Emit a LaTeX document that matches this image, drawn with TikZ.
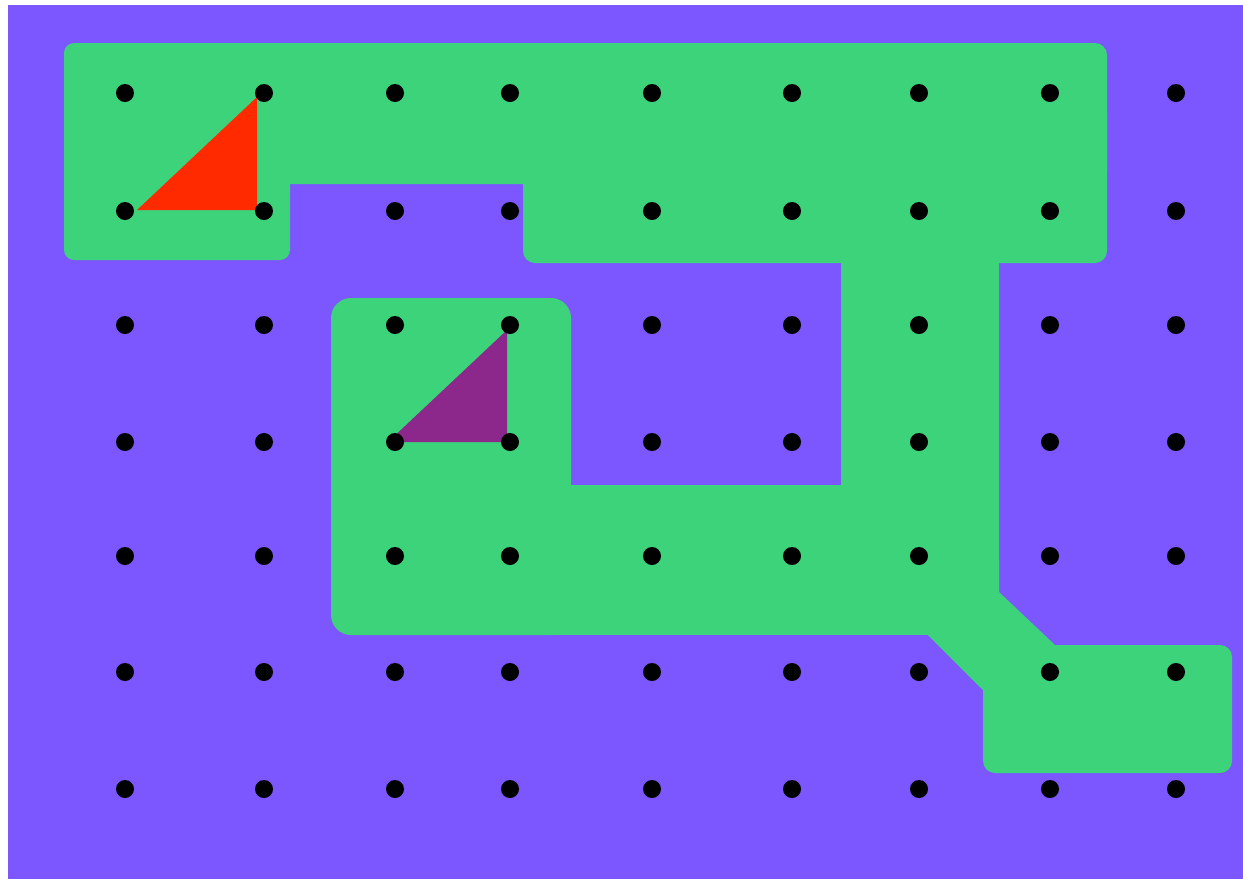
\documentclass[tikz,border=0pt]{standalone}
\definecolor{bgpurple}{RGB}{124,86,255}
\definecolor{pathgreen}{RGB}{60,211,123}
\definecolor{trired}{RGB}{255,42,0}
\definecolor{trimag}{RGB}{140,40,140}
\tikzset{
  dot/.style={circle,fill=black,inner sep=0pt,minimum size=18pt},
  area/.style={fill=pathgreen}
}
\begin{document}
\begin{tikzpicture}[x=1pt,y=-1pt]
\useasboundingbox (0,0) rectangle (1243,879);
\fill[white] (0,0) rectangle (1243,879);
\fill[bgpurple] (8,5) rectangle (1243,879);
% top band
\fill[area,rounded corners=10pt] (64,43) rectangle (290,260);
\fill[area,rounded corners=12pt] (250,43) rectangle (1107,184);
\fill[area,rounded corners=12pt] (523,100) rectangle (1107,263);
% column
\fill[area] (841,200) rectangle (999,600);
% middle U
\fill[area,rounded corners=20pt] (331,298) rectangle (571,635);
\fill[area] (540,485) rectangle (960,635);
% diagonal connector
\fill[area] (999,560) -- (999,592) -- (1055,645) -- (1100,645) -- (1100,700)
  -- (983,700) -- (983,690) -- (928,635) -- (900,560) -- cycle;
% lower right box
\fill[area,rounded corners=12pt] (983,645) rectangle (1232,773);
% triangles
\fill[trired] (137,210) -- (257,97) -- (257,210) -- cycle;
\fill[trimag] (388,442) -- (507,330) -- (507,442) -- cycle;
% dots
\foreach \x [count=\i] in {125,264,395,510,652,792,919,1050,1176}{
  \foreach \y [count=\j] in {93,211,325,442,556,672,789}{
    \node[dot] (d\i-\j) at (\x,\y) {};
  }
}
\end{tikzpicture}
\end{document}
